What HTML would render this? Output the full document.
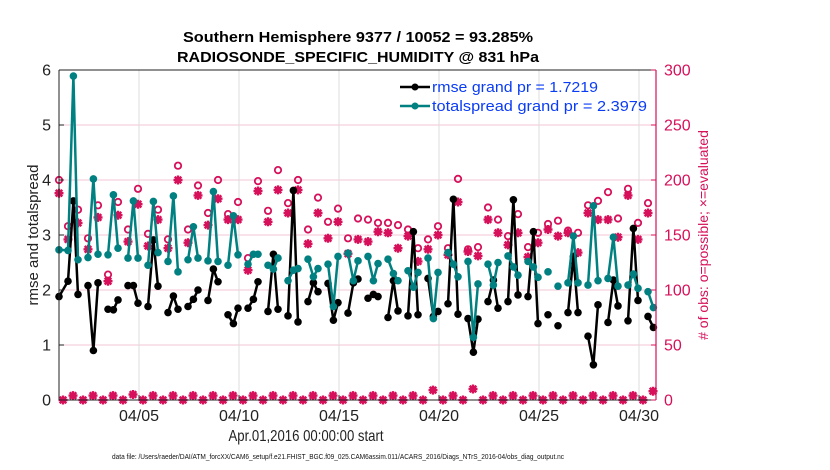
<!DOCTYPE html>
<html><head><meta charset="utf-8"><style>
body{margin:0;background:#fff;}
svg{display:block;font-family:"Liberation Sans",sans-serif;}
</style></head><body>
<svg id="chart" width="830" height="470" viewBox="0 0 830 470">
<rect x="0" y="0" width="830" height="470" fill="#fff"/>
<text x="358" y="42" text-anchor="middle" font-size="15" font-weight="bold" textLength="350" lengthAdjust="spacingAndGlyphs">Southern Hemisphere 9377 / 10052 = 93.285%</text>
<text x="358" y="62" text-anchor="middle" font-size="15" font-weight="bold" textLength="362" lengthAdjust="spacingAndGlyphs">RADIOSONDE_SPECIFIC_HUMIDITY @ 831 hPa</text>
<g id="grid"></g>
<g id="marks"></g>
<g id="axes"></g>
<text transform="translate(38,235) rotate(-90)" text-anchor="middle" font-size="15" fill="#222">rmse and totalspread</text>
<text transform="translate(708,235) rotate(-90)" text-anchor="middle" font-size="14" fill="#d6105a"># of obs: o=possible; ×=evaluated</text>
<text x="306" y="441" text-anchor="middle" font-size="16" fill="#222" textLength="155" lengthAdjust="spacingAndGlyphs">Apr.01,2016 00:00:00 start</text>
<text x="338" y="459" text-anchor="middle" font-size="7.5" fill="#111" textLength="452" lengthAdjust="spacingAndGlyphs">data file: /Users/raeder/DAI/ATM_forcXX/CAM6_setup/f.e21.FHIST_BGC.f09_025.CAM6assim.011/ACARS_2016/Diags_NTrS_2016-04/obs_diag_output.nc</text>
<g>
<line x1="400" y1="87" x2="430" y2="87" stroke="#000" stroke-width="2.5"/>
<circle cx="415" cy="87" r="3.5" fill="#000"/>
<text x="432" y="92" font-size="15" fill="#0a3cf5" textLength="166" lengthAdjust="spacingAndGlyphs">rmse grand pr = 1.7219</text>
<line x1="400" y1="106" x2="430" y2="106" stroke="#008080" stroke-width="2.5"/>
<circle cx="415" cy="106" r="3.5" fill="#008080"/>
<text x="432" y="111" font-size="15" fill="#0a3cf5" textLength="215" lengthAdjust="spacingAndGlyphs">totalspread grand pr = 2.3979</text>
</g>
</svg>
<script>
// ---- data ----
const times = [0,
0.45,0.72,0.95, 1.45,1.72,1.95, 2.45,2.72,2.95, 3.45,3.72,3.95, 4.45,4.72,4.95,
5.45,5.72,5.95, 6.45,6.72,6.95, 7.45,7.72,7.95, 8.45,8.72,8.95, 9.45,9.72,9.95,
10.45,10.72,10.95, 11.45,11.72,11.95, 12.45,12.72,12.95, 13.45,13.72,13.95, 14.45,14.72,14.95,
15.45,15.72,15.95, 16.45,16.72,16.95, 17.45,17.72,17.95, 18.45,18.72,18.95, 19.45,19.72,19.95,
20.45,20.72,20.95, 21.45,21.72,21.95, 22.45,22.72,22.95, 23.45,23.72,23.95, 24.45,24.72,24.95,
25.45,25.72,25.95, 26.45,26.72,26.95, 27.45,27.72,27.95, 28.45,28.72,28.95, 29.45,29.72];
const rmse = [1.88,
2.16,3.62,1.92, 2.08,0.90,2.13, 1.65,1.64,1.82, 2.08,2.08,1.76, 1.70,2.91,2.07,
1.59,1.89,1.65, 1.70,1.83,2.00, 1.81,2.38,2.15, 1.55,1.39,1.67, 1.67,1.83,2.15,
1.61,2.65,1.65, 1.53,3.81,1.42, 1.79,2.13,1.97, 2.12,1.45,1.77, 1.58,2.13,2.20,
1.85,1.92,1.88, 1.50,2.17,1.62, 1.53,3.06,1.55, 2.21,1.52,1.61, 1.75,3.65,1.56,
1.48,0.87,1.47, 1.79,2.18,1.67, 1.79,3.64,1.91, 1.88,3.06,1.39, 1.55,null,1.35,
1.59,2.61,1.59, 1.16,0.64,1.73, 1.41,2.18,1.71, 1.44,3.12,1.81, 1.52,1.32];
const spread = [2.73,
2.72,5.89,2.55, 2.59,4.02,2.65, 2.64,3.73,2.76, 2.58,3.62,2.58, 2.45,3.61,2.68,
2.52,3.71,2.33, 2.55,3.15,2.58, 2.53,3.79,2.52, 2.45,3.35,2.64, 2.47,2.65,2.65,
2.45,2.38,2.58, 2.17,2.36,2.39, 2.56,2.24,2.39, 2.47,1.70,2.61, 2.67,2.17,2.53,
2.61,2.17,2.48, 2.56,2.30,2.17, 2.35,2.05,2.32, 2.58,1.48,2.32, 2.68,2.47,2.24,
2.52,1.14,2.11, 2.47,2.09,2.50, 2.62,2.42,2.27, 2.52,2.42,2.23, 2.33,null,2.07,
2.13,2.98,2.13, 2.09,3.53,2.17, 2.21,2.96,2.07, 2.09,2.29,2.03, 1.97,1.68];
const countTimes = [0, 0.45,0.95, 1.45,1.95, 2.45,2.95, 3.45,3.95, 4.45,4.95,
5.45,5.95, 6.45,6.95, 7.45,7.95, 8.45,8.95, 9.45,9.95,
10.45,10.95, 11.45,11.95, 12.45,12.95, 13.45,13.95, 14.45,14.95,
15.45,15.95, 16.45,16.95, 17.45,17.95, 18.45,18.95, 19.45,19.95,
20.45,20.95, 21.45,21.95, 22.45,22.95, 23.45,23.95, 24.45,24.95,
25.45,25.95, 26.45,26.95, 27.45,27.95, 28.45,28.95, 29.45];
const possible = [200, 158,173, 147,177, 114,180, 155,192, 151,173,
146,213, 155,195, 170,200, 169,180, 129,199,
172,209, 179,200, 155,184, 162,174, 147,165,
164,161, 161,159, 155,138, 146,158, 138,201,
137,139, 175,164, 149,169, 139,152, 160,163,
154,152, 177,181, 189,165, 192,161, 179];
const evaluated = [188, 146,161, 137,166, 108,168, 144,178, 140,164,
138,200, 143,186, 159,183, 164,164, 118,190,
162,191, 170,191, 142,170, 147,162, 133,146,
144,153, 152,138, 149,126, 137,150, 132,180,
135,131, 164,152, 141,152, 130,143, 155,149,
152,134, 170,164, 164,148, 186,146, 170];
const lowTimes = [0.2,0.7,1.2,1.7,2.2,2.7,3.2,3.7,4.2,4.7,5.2,5.7,6.2,6.7,7.2,7.7,8.2,8.7,9.2,9.7,
10.2,10.7,11.2,11.7,12.2,12.7,13.2,13.7,14.2,14.7,15.2,15.7,16.2,16.7,17.2,17.7,18.2,18.7,19.2,19.7,
20.2,20.7,21.2,21.7,22.2,22.7,23.2,23.7,24.2,24.7,25.2,25.7,26.2,26.7,27.2,27.7,28.2,28.7,29.2,29.7];
const lowCounts = [0,4,0,4,0,4,0,5,0,4,0,4,0,4,0,4,0,4,0,4,
0,4,0,4,0,4,0,4,0,4,0,4,0,4,0,4,0,9,0,4,
0,10,0,4,0,4,0,4,0,4,0,4,0,4,0,4,0,4,0,8];
const leftTicks = [0,1,2,3,4,5,6];
const rightTicks = [0,50,100,150,200,250,300];
const xTickDays = [4,9,14,19,24,29];
const xTickLabels = ["04/05","04/10","04/15","04/20","04/25","04/30"];

// ---- scales ----
const L=59, R=656, T=70, B=400, DAY=20;
const NS="http://www.w3.org/2000/svg";
const xs = t => L + t*DAY;
const yL = v => B - v*(B-T)/6;
const yR = c => B - c*(B-T)/300;
const PINK="#d6105a", TEAL="#008080";
function mk(tag, attrs, parent){const e=document.createElementNS(NS,tag);for(const k in attrs)e.setAttribute(k,attrs[k]);parent.appendChild(e);return e;}
const grid=document.getElementById('grid'), marks=document.getElementById('marks'), axes=document.getElementById('axes');

// grid
leftTicks.forEach(v=>{ if(v>0&&v<6){const g=mk('line',{x1:L,x2:R,y1:yL(v),y2:yL(v),stroke:'#f3c6d6','stroke-width':1},grid);

}});
xTickDays.forEach(d=>{const g=mk('line',{x1:xs(d),x2:xs(d),y1:T,y2:B,stroke:'#dcdcdc','stroke-width':1},grid);

});

// series lines (connected within groups)
function drawSeries(vals,color,name){
  let d='', prev=null;
  for(let i=0;i<times.length;i++){
    const v=vals[i]; if(v===null){prev=null;continue;}
    const x=xs(times[i]), y=yL(v);
    if(prev!==null && times[i]-times[prev]<0.47) d+=`L${x.toFixed(1)},${y.toFixed(1)}`; else d+=`M${x.toFixed(1)},${y.toFixed(1)}`;
    prev=i;
  }
  const p=mk('path',{d:d,fill:'none',stroke:color,'stroke-width':2.5,'stroke-linejoin':'round'},marks);
  
  
  for(let i=0;i<times.length;i++){ if(vals[i]===null)continue;
    const c=mk('circle',{cx:xs(times[i]),cy:yL(vals[i]),r:3.8,fill:color},marks);
    
    
  }
}
// count markers
function star(x,y,name){
  const g=mk('path',{d:`M${x-4.5},${y}L${x+4.5},${y}M${x},${y-4.5}L${x},${y+4.5}M${x-3.3},${y-3.3}L${x+3.3},${y+3.3}M${x-3.3},${y+3.3}L${x+3.3},${y-3.3}`,stroke:PINK,'stroke-width':2.4,fill:'none'},marks);
  
  
}
countTimes.forEach((t,i)=>{
  const c=mk('circle',{cx:xs(t),cy:yR(possible[i]),r:3.2,fill:'none',stroke:PINK,'stroke-width':1.8},marks);
  
  
  star(xs(t),yR(evaluated[i]),'evaluated-obs-marker');
});
lowTimes.forEach((t,i)=>{
  const x=xs(t), y=yR(lowCounts[i]);
  const c=mk('circle',{cx:x,cy:y,r:3.3,fill:PINK},marks);
  
  
  star(x,y,'low-count-star');
});
drawSeries(rmse,'#000','rmse');
drawSeries(spread,TEAL,'totalspread');

// axes
let a=mk('line',{x1:L,x2:R,y1:T,y2:T,stroke:'#222','stroke-width':1},axes);


a=mk('line',{x1:L,x2:R,y1:B,y2:B,stroke:'#222','stroke-width':1},axes);


a=mk('line',{x1:L,x2:L,y1:T,y2:B,stroke:'#222','stroke-width':1},axes);


a=mk('line',{x1:R,x2:R,y1:T,y2:B,stroke:PINK,'stroke-width':1.2},axes);


leftTicks.forEach(v=>{
  const t=mk('line',{x1:L,x2:L+5,y1:yL(v),y2:yL(v),stroke:'#222'},axes);
  
  
  const tx=mk('text',{x:L-8,y:yL(v)+5.5,'text-anchor':'end','font-size':16,fill:'#222'},axes);
  tx.textContent=v;
  
  
});
rightTicks.forEach(v=>{
  const t=mk('line',{x1:R-5,x2:R,y1:yR(v),y2:yR(v),stroke:PINK},axes);
  
  
  const tx=mk('text',{x:R+8,y:yR(v)+5.5,'font-size':16,fill:PINK},axes);
  tx.textContent=v;
  
  
});
xTickDays.forEach((d,i)=>{
  const t=mk('line',{x1:xs(d),x2:xs(d),y1:B-5,y2:B,stroke:'#222'},axes);
  
  
  const tx=mk('text',{x:xs(d),y:421,'text-anchor':'middle','font-size':16,fill:'#222'},axes);
  tx.textContent=xTickLabels[i];
  
  
});
</script>
</body></html>
